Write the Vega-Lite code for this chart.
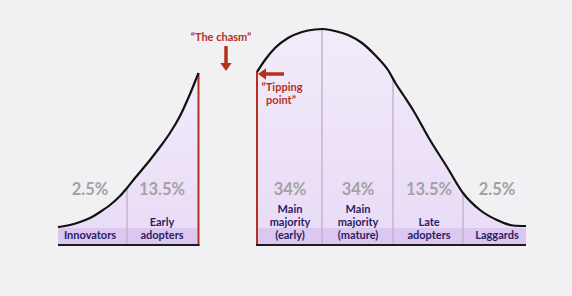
{
  "$schema": "https://vega.github.io/schema/vega-lite/v6.json",
  "width": 572,
  "height": 296,
  "padding": 0,
  "autosize": "none",
  "background": "#f1f1f3",
  "config": {"view": {"stroke": null}, "font": "Lato"},
  "datasets": {
    "curve": [
      {"seg": "left", "x": 58, "h": 18},
      {"seg": "left", "x": 62, "h": 18.5},
      {"seg": "left", "x": 70, "h": 20},
      {"seg": "left", "x": 80, "h": 23},
      {"seg": "left", "x": 90, "h": 27},
      {"seg": "left", "x": 100, "h": 33},
      {"seg": "left", "x": 110, "h": 40},
      {"seg": "left", "x": 120, "h": 49},
      {"seg": "left", "x": 127, "h": 57},
      {"seg": "left", "x": 135, "h": 67},
      {"seg": "left", "x": 150, "h": 85},
      {"seg": "left", "x": 160, "h": 98},
      {"seg": "left", "x": 170, "h": 112},
      {"seg": "left", "x": 180, "h": 129},
      {"seg": "left", "x": 190, "h": 151},
      {"seg": "left", "x": 198.5, "h": 172},
      {"seg": "right", "x": 257, "h": 173},
      {"seg": "right", "x": 265, "h": 185},
      {"seg": "right", "x": 275, "h": 197},
      {"seg": "right", "x": 288, "h": 207},
      {"seg": "right", "x": 302, "h": 213},
      {"seg": "right", "x": 315, "h": 215.5},
      {"seg": "right", "x": 323, "h": 216},
      {"seg": "right", "x": 335, "h": 214},
      {"seg": "right", "x": 348, "h": 210},
      {"seg": "right", "x": 362, "h": 202},
      {"seg": "right", "x": 375, "h": 190},
      {"seg": "right", "x": 388, "h": 175},
      {"seg": "right", "x": 396, "h": 161},
      {"seg": "right", "x": 404, "h": 149},
      {"seg": "right", "x": 413, "h": 135},
      {"seg": "right", "x": 430, "h": 105},
      {"seg": "right", "x": 447, "h": 78},
      {"seg": "right", "x": 463, "h": 52},
      {"seg": "right", "x": 480, "h": 35},
      {"seg": "right", "x": 497, "h": 25},
      {"seg": "right", "x": 513, "h": 19.5},
      {"seg": "right", "x": 526, "h": 19}
    ],
    "band": [
      {"x": 58, "x2": 199, "h": 0, "h2": 17},
      {"x": 257, "x2": 526, "h": 0, "h2": 17}
    ],
    "dividers": [
      {"x": 127, "h": 0, "h2": 57},
      {"x": 322, "h": 0, "h2": 216},
      {"x": 393, "h": 0, "h2": 166},
      {"x": 463, "h": 0, "h2": 52}
    ],
    "redlines": [
      {"x": 198.5, "h": 0, "h2": 172},
      {"x": 257, "h": 0, "h2": 173}
    ],
    "baseline": [
      {"x": 58, "x2": 199.5, "h": 0},
      {"x": 256, "x2": 526, "h": 0}
    ],
    "pct": [
      {"x": 90, "h": 55, "text": "2.5%"},
      {"x": 162, "h": 55, "text": "13.5%"},
      {"x": 290, "h": 55, "text": "34%"},
      {"x": 358, "h": 55, "text": "34%"},
      {"x": 429, "h": 55, "text": "13.5%"},
      {"x": 497, "h": 55, "text": "2.5%"}
    ],
    "cats": [
      {"x": 90, "h": 9, "text": "Innovators"},
      {"x": 162, "h": 22, "text": "Early"},
      {"x": 162, "h": 9, "text": "adopters"},
      {"x": 290, "h": 35, "text": "Main"},
      {"x": 290, "h": 22, "text": "majority"},
      {"x": 290, "h": 9, "text": "(early)"},
      {"x": 358, "h": 35, "text": "Main"},
      {"x": 358, "h": 22, "text": "majority"},
      {"x": 358, "h": 9, "text": "(mature)"},
      {"x": 429, "h": 22, "text": "Late"},
      {"x": 429, "h": 9, "text": "adopters"},
      {"x": 497, "h": 9, "text": "Laggards"}
    ],
    "notes": [
      {"x": 221, "h": 207, "text": "“The chasm”"},
      {"x": 282, "h": 157, "text": "“Tipping"},
      {"x": 281, "h": 144, "text": "point”"}
    ],
    "shafts": [
      {"x": 226, "x2": 226, "h": 199, "h2": 182},
      {"x": 265, "x2": 284, "h": 171, "h2": 171}
    ],
    "heads": [
      {"x": 226, "h": 178, "dir": "down"},
      {"x": 262, "h": 171, "dir": "left"}
    ]
  },
  "encoding": {
    "x": {"field": "x", "type": "quantitative", "scale": {"domain": [0, 572], "nice": false, "zero": false}, "axis": null},
    "y": {"field": "h", "type": "quantitative", "scale": {"domain": [-51, 245], "nice": false, "zero": false}, "axis": null}
  },
  "layer": [
    {
      "data": {"name": "curve"},
      "mark": {"type": "area", "interpolate": "monotone", "opacity": 0.85,
        "color": {"gradient": "linear", "x1": 0, "y1": 0, "x2": 0, "y2": 1,
          "stops": [{"offset": 0, "color": "#f3eafb"}, {"offset": 1, "color": "#e7d7f7"}]}},
      "encoding": {"detail": {"field": "seg"}, "y2": {"datum": 0}}
    },
    {
      "data": {"name": "band"},
      "mark": {"type": "rect", "color": "#d6c0ee", "opacity": 0.75},
      "encoding": {"x2": {"field": "x2"}, "y2": {"field": "h2"}}
    },
    {
      "data": {"name": "dividers"},
      "mark": {"type": "rule", "color": "#c3b4d0", "strokeWidth": 1.5},
      "encoding": {"y2": {"field": "h2"}}
    },
    {
      "data": {"name": "redlines"},
      "mark": {"type": "rule", "color": "#b3321f", "strokeWidth": 2},
      "encoding": {"y2": {"field": "h2"}}
    },
    {
      "data": {"name": "curve"},
      "mark": {"type": "line", "interpolate": "monotone", "color": "#111111", "strokeWidth": 2.2},
      "encoding": {"detail": {"field": "seg"}}
    },
    {
      "data": {"name": "baseline"},
      "mark": {"type": "rule", "color": "#1c1c1c", "strokeWidth": 2},
      "encoding": {"x2": {"field": "x2"}}
    },
    {
      "data": {"name": "pct"},
      "mark": {"type": "text", "font": "Lato", "fontWeight": "bold", "fontSize": 16.5, "color": "#a2a2a4", "align": "center", "baseline": "middle"},
      "encoding": {"text": {"field": "text"}}
    },
    {
      "data": {"name": "cats"},
      "mark": {"type": "text", "font": "Lato", "fontWeight": "bold", "fontSize": 11, "color": "#2a1c66", "align": "center", "baseline": "middle"},
      "encoding": {"text": {"field": "text"}}
    },
    {
      "data": {"name": "notes"},
      "mark": {"type": "text", "font": "Lato", "fontWeight": "bold", "fontSize": 11, "color": "#b3321f", "align": "center", "baseline": "middle"},
      "encoding": {"text": {"field": "text"}}
    },
    {
      "data": {"name": "shafts"},
      "mark": {"type": "rule", "color": "#b3321f", "strokeWidth": 3.5},
      "encoding": {"x2": {"field": "x2"}, "y2": {"field": "h2"}}
    },
    {
      "data": {"name": "heads"},
      "mark": {"type": "point", "filled": true, "opacity": 1, "color": "#b3321f", "size": 130},
      "encoding": {
        "shape": {"field": "dir", "type": "nominal", "scale": {"domain": ["down", "left"], "range": ["M-1,-0.7L1,-0.7L0,0.7Z", "M0.7,-1L0.7,1L-0.7,0Z"]}, "legend": null}
      }
    }
  ]
}
